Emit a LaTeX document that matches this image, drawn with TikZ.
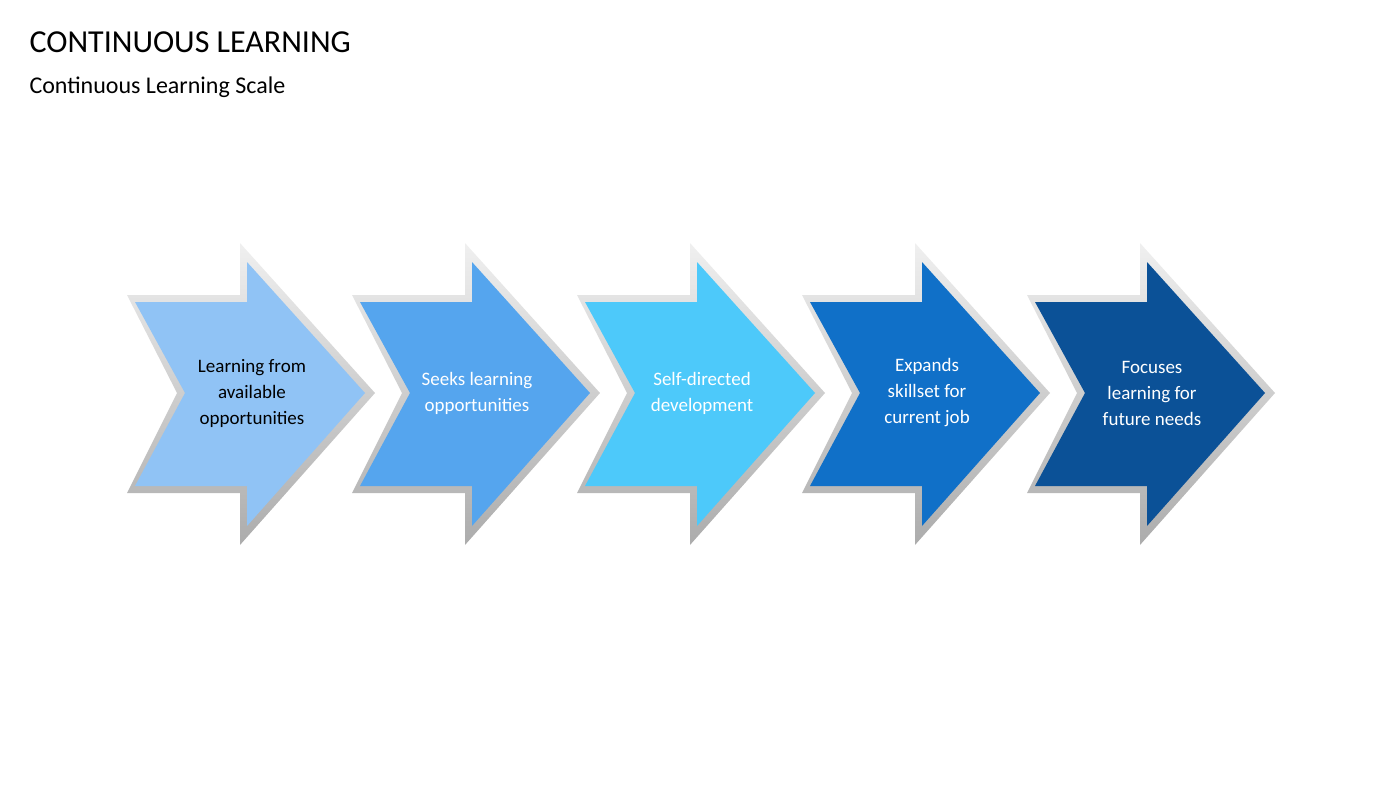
\documentclass[tikz,border=0pt]{standalone}
\usepackage{fontspec}
\setmainfont{Carlito}
\definecolor{stepA}{HTML}{90C3F5}
\definecolor{stepB}{HTML}{55A5EE}
\definecolor{stepC}{HTML}{4DC9FA}
\definecolor{stepD}{HTML}{1070C8}
\definecolor{stepE}{HTML}{0B5197}
\begin{document}
\begin{tikzpicture}
[%%%%%%%%%%%%%%%%%%%%%%%%%%%%%%
x=1pt,y=-1pt,
frame/.style={top color=gray!12,bottom color=gray!65,draw=none},
label/.style={align=center,font=\fontsize{19}{26}\selectfont},
]%%%%%%%%%%%%%%%%%%%%%%%%%%%%%%
\useasboundingbox (0,0) rectangle (1400,788);

\node[anchor=west,font=\fontsize{32}{36}\selectfont] (title) at (26,42) {CONTINUOUS LEARNING};
\node[anchor=west,font=\fontsize{24}{28}\selectfont] (sub) at (26,87) {Continuous Learning Scale};

% arrows
\foreach \i/\col/\txt/\tc in {0/stepA/{Learning from\\available\\opportunities}/black,
1/stepB/{Seeks learning\\opportunities}/white,
2/stepC/{Self-directed\\development}/white,
3/stepD/{Expands\\skillset for\\current job}/white,
4/stepE/{Focuses\\learning for\\future needs}/white}{
\begin{scope}[xshift=225*\i]
\shade[frame] (127,295) -- (240,295) -- (240,243) -- (375,393) -- (240,545)
  -- (240,493) -- (127,493) -- (177,393) -- cycle;
\fill[\col] (135,302) -- (247,302) -- (247,262) -- (365,393) -- (247,526)
  -- (247,486) -- (135,486) -- (185,393) -- cycle;
\node[label,text=\tc] (step\i) at (252,393) {\txt};
\end{scope}
}
\end{tikzpicture}
\end{document}
